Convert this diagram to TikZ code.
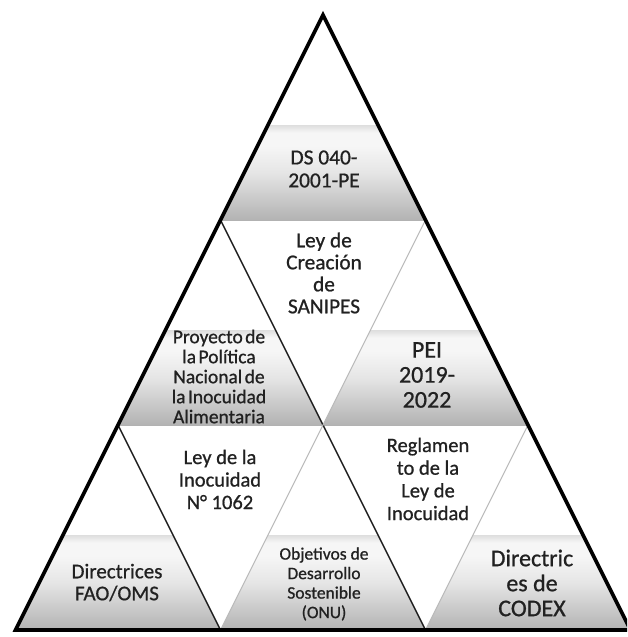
\documentclass[tikz,border=0pt]{standalone}
\usepackage{fontspec}
\setmainfont{Carlito}[FakeBold=0.8]
\newfontfamily\tightfont{Carlito}[FakeBold=0.8, WordSpace=0.55]
\definecolor{bandBot}{gray}{0.70}
\definecolor{bandMid}{gray}{0.90}
\definecolor{bandHi}{gray}{0.965}
\definecolor{bandTop}{gray}{0.87}
\definecolor{txt}{gray}{0.13}
\pgfdeclareverticalshading{band}{100bp}{color(0bp)=(bandBot); color(25bp)=(bandBot); color(50bp)=(bandMid); color(64bp)=(bandHi); color(71bp)=(bandHi); color(75bp)=(bandTop); color(100bp)=(bandTop)}
\tikzset{
  lbl/.style={align=center, inner sep=0pt, text=txt, font=\fontsize{21}{22.5}\selectfont},
  smalllbl/.style={lbl, font=\tightfont\fontsize{19.5}{20}\selectfont},
  darkedge/.style={draw=gray!25!black, line width=1.5pt, line cap=round},
  lightedge/.style={draw=gray!55, line width=1.1pt, line cap=round},
  bandedge/.style={draw=gray!60, line width=0.8pt},
  outer/.style={draw=black, line width=3.6pt, line join=miter},
}
\newcommand{\upband}[2]{% apex x, apex y
  \path[shading=band] (#1-55,#2+110) -- (#1+55,#2+110) -- (#1+102.5,#2+205) -- (#1-102.5,#2+205) -- cycle;
  \draw[bandedge] (#1-102.5,#2+205) -- (#1+102.5,#2+205);
}
\begin{document}
\begin{tikzpicture}[x=1pt,y=-1pt]
\useasboundingbox (0,0) rectangle (627,637);
\clip (0,0) rectangle (627,637);
\fill[white] (0,0) rectangle (627,637);
% grid points
\coordinate (A) at (323,15);
\coordinate (p1l) at (220.5,220);
\coordinate (p1r) at (425.5,220);
\coordinate (p2a) at (118,425);
\coordinate (p2b) at (323,425);
\coordinate (p2c) at (528,425);
\coordinate (p3a) at (15.5,630);
\coordinate (p3b) at (220.5,630);
\coordinate (p3c) at (425.5,630);
\coordinate (p3d) at (630.5,630);
% shaded lower halves of the upward triangles
\upband{323}{15}
\upband{220.5}{220}
\upband{425.5}{220}
\upband{118}{425}
\upband{323}{425}
\upband{528}{425}
% inner edges
\draw[darkedge] (p1l) -- (p2b);
\draw[darkedge] (p2a) -- (p3b);
\draw[darkedge] (p2b) -- (p3c);
\draw[lightedge] (p1r) -- (p2b);
\draw[lightedge] (p2b) -- (p3b);
\draw[lightedge] (p2c) -- (p3c);
% outer triangle
\draw[outer] (A) -- (p3d) -- (p3a) -- cycle;
% labels
\node[lbl, font=\fontsize{21.4}{23}\selectfont] (ds) at (324,169) {DS 040-\\2001-PE};
\node[lbl, font=\fontsize{21.3}{22}\selectfont] (sanipes) at (324,273) {Ley de\\Creación\\de\\SANIPES};
\node[smalllbl] (politica) at (219,376.5) {Proyecto de\\la Política\\Nacional de\\la Inocuidad\\Alimentaria};
\node[lbl, font=\fontsize{24}{25}\selectfont] (pei) at (427,375) {PEI\\2019-\\2022};
\node[lbl, font=\fontsize{20.5}{22.5}\selectfont] (ley) at (220,479.5) {Ley de la\\Inocuidad\\N° 1062};
\node[lbl, font=\fontsize{20.5}{22.7}\selectfont] (reglamento) at (428,479) {Reglamen\\to de la\\Ley de\\Inocuidad};
\node[lbl, font=\fontsize{21}{22}\selectfont] (fao) at (117,582.5) {Directrices\\FAO/OMS};
\node[lbl, font=\fontsize{17.5}{19.5}\selectfont] (ods) at (324,584) {Objetivos de\\Desarrollo\\Sostenible\\(ONU)};
\node[lbl, font=\fontsize{24}{25}\selectfont] (codex) at (532,583) {Directric\\es de\\CODEX};
\end{tikzpicture}
\end{document}
